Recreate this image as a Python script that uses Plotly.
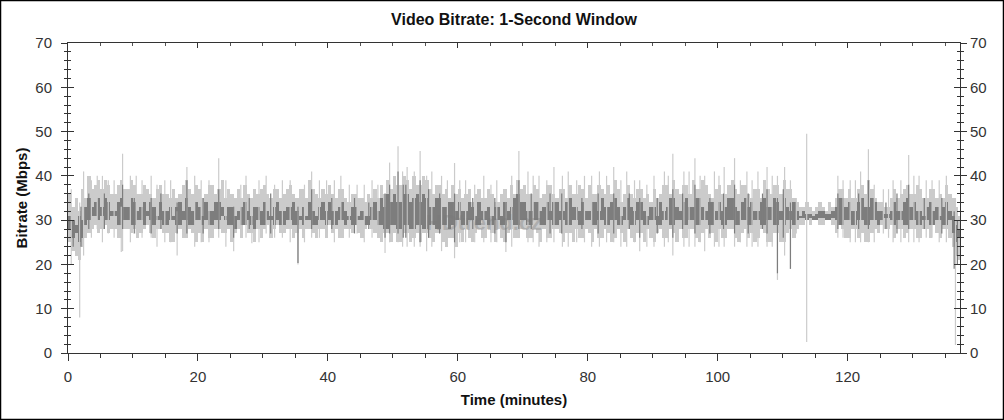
import plotly.graph_objects as go

# half-minute bins (0, 0.5, ... 137.5 min): envelope of each series inside each bin
light_hi = [36,33, 35,32, 37,35, 40,37, 38,39, 37,39, 38,36, 36,38, 39,37, 37,39,
            38,36, 36,38, 37,36, 35,37, 38,36, 36,35, 37,35, 36,38, 39,37, 36,38,
            37,35, 36,38, 38,36, 37,39, 35,37, 36,35, 37,35, 38,36, 35,37, 36,37,
            38,36, 35,37, 37,35, 36,37, 38,36, 35,37, 37,35, 39,37, 36,35, 37,36,
            38,36, 35,37, 37,35, 34,36, 36,35, 35,34, 36,35, 37,35, 38,36, 39,37,
            40,38, 38,40, 39,37, 40,38, 38,40, 39,37, 36,38, 38,36, 37,35, 38,36,
            37,35, 36,37, 34,36, 37,35, 35,37, 36,34, 34,36, 37,35, 38,36, 39,37,
            38,36, 36,38, 37,35, 36,38, 38,36, 35,37, 37,35, 38,36, 36,38, 37,35,
            38,36, 36,38, 37,36, 38,36, 39,37, 34,36, 38,36, 35,37, 37,35, 36,34,
            37,35, 36,38, 38,36, 39,37, 36,38, 38,36, 39,37, 37,39, 38,36, 35,37,
            38,36, 36,38, 39,37, 36,38, 38,36, 35,37, 37,35, 39,37, 36,38, 38,36,
            39,37, 37,35, 34,33, 33,34, 33,32, 33,34, 33,32, 34,33, 35,37, 37,35,
            37,35, 35,37, 38,36, 39,37, 35,34, 34,33, 33,35, 37,35, 36,37, 38,36,
            36,38, 37,35, 35,37, 37,35, 36,35, 38,36, 35,33, 31,29]
light_lo = [25,23, 22,21, 24,26, 27,28, 29,27, 28,29, 27,28, 28,26, 26,28, 28,27,
            28,26, 27,28, 29,27, 26,28, 28,27, 27,25, 25,27, 28,26, 26,28, 27,25,
            27,25, 28,26, 26,28, 28,27, 27,28, 25,27, 28,26, 29,27, 27,25, 28,26,
            28,29, 26,28, 29,27, 27,28, 28,26, 27,28, 26,28, 28,27, 26,28, 28,26,
            29,27, 28,26, 26,28, 28,27, 29,27, 26,28, 29,28, 27,26, 25,27, 27,25,
            27,25, 25,27, 27,25, 26,27, 25,27, 27,26, 25,27, 27,25, 24,26, 26,24,
            27,25, 28,26, 25,27, 28,26, 26,28, 27,25, 28,26, 25,27, 28,26, 26,28,
            28,26, 26,28, 27,25, 28,26, 26,28, 28,27, 25,27, 27,25, 28,26, 26,28,
            27,25, 28,26, 26,28, 27,25, 26,28, 27,25, 28,26, 25,27, 27,25, 28,26,
            25,27, 28,26, 26,28, 27,25, 28,26, 26,28, 28,26, 25,27, 28,26, 27,25,
            28,26, 26,28, 28,26, 25,27, 28,26, 27,25, 26,28, 27,25, 25,27, 27,25,
            25,27, 28,26, 28,29, 29,30, 29,30, 30,29, 29,30, 30,29, 27,29, 28,26,
            26,28, 28,26, 27,25, 25,27, 28,27, 29,28, 28,29, 26,28, 28,26, 27,28,
            28,26, 26,28, 28,26, 29,27, 26,28, 28,26, 24,22, 21,23]
dark_hi = [31,30, 29,31, 30,33, 35,33, 34,35, 33,35, 34,32, 32,34, 35,33, 33,35,
           34,32, 33,34, 32,34, 33,31, 34,32, 32,33, 31,33, 34,32, 35,33, 32,34,
           33,31, 34,32, 32,34, 34,33, 31,33, 33,31, 32,33, 34,32, 31,33, 33,32,
           34,32, 31,33, 34,32, 32,33, 33,34, 32,31, 33,31, 34,32, 31,33, 34,32,
           34,32, 32,33, 34,32, 31,33, 33,31, 32,31, 31,33, 34,32, 35,33, 36,34,
           36,34, 34,36, 36,34, 35,36, 34,36, 35,33, 33,35, 35,33, 33,34, 34,32,
           34,32, 32,34, 33,31, 34,32, 32,33, 31,33, 33,31, 34,32, 33,35, 36,34,
           34,32, 32,34, 34,32, 33,34, 32,34, 34,32, 32,34, 35,33, 33,32, 34,32,
           32,34, 34,32, 35,33, 33,34, 35,33, 31,33, 35,33, 32,34, 34,32, 31,33,
           33,31, 34,32, 33,35, 35,33, 32,34, 35,33, 33,35, 35,33, 32,34, 34,32,
           34,32, 33,35, 35,33, 32,34, 35,33, 34,32, 32,34, 35,33, 33,35, 34,32,
           35,33, 32,34, 32,31, 32,31.5, 31.5,31, 31.5,32, 32,31.5, 31.5,32, 33,35, 35,33,
           34,32, 32,34, 35,33, 33,35, 34,32, 32,31.5, 31.5,32, 34,32, 32,34, 35,33,
           34,32, 32,31, 33,34, 32,33, 31,33, 34,32, 31,29, 28,27]
dark_lo = [28,26, 27,25, 26,29, 30,31, 31,30, 31,30, 30,31, 31,29, 29,30, 30,29,
           29,30, 30,29, 31,30, 29,30, 30,29, 29,30, 30,29, 29,30, 30,29, 29,30,
           30,29, 30,29, 29,30, 30,31, 30,29, 29,28, 30,29, 29,30, 29,28, 30,29,
           29,30, 30,29, 30,29, 29,30, 30,29, 29,30, 29,30, 30,29, 29,30, 30,29,
           30,29, 29,30, 30,29, 30,29, 29,30, 30,29, 29,30, 30,29, 29,28, 28,29,
           29,28, 28,29, 29,28, 28,29, 29,28, 28,29, 29,28, 28,29, 29,28, 29,30,
           30,29, 29,30, 30,29, 29,30, 30,29, 29,30, 30,29, 29,30, 30,29, 29,30,
           30,29, 29,30, 30,29, 29,30, 30,29, 29,30, 30,29, 29,30, 30,29, 29,30,
           30,29, 29,30, 30,29, 29,30, 30,29, 29,30, 30,29, 29,30, 30,29, 29,30,
           30,29, 29,30, 30,29, 29,30, 30,29, 29,30, 30,29, 29,30, 30,29, 29,30,
           30,29, 29,30, 30,29, 29,30, 30,29, 29,30, 30,29, 29,30, 30,29, 29,30,
           29,30, 30,29, 30,30.5, 30.5,30, 30.5,30, 30,30.5, 30.5,30, 30,30.5, 30,29, 29,30,
           30,29, 29,30, 30,29, 29,30, 30,29, 30,30.5, 30.5,30, 29,30, 30,29, 29,30,
           30,29, 29,30, 30,29, 29,30, 30,29, 29,30, 27,25, 26,25]
bin_start = [i * 0.5 for i in range(len(light_hi))]

# individual 1-second excursions (minute, low, high)
light_spike_t = [0.5, 1.8, 2.4, 4.5, 6.2, 8.2, 8.4, 10.5, 12.8, 14.9,
                 16.8, 18.3, 20.5, 23.2, 25.5, 27.4, 28.3, 30.5, 33.0, 35.4,
                 37.5, 39.8, 42.0, 44.5, 46.8, 48.8, 49.5, 50.8, 52.2, 54.2,
                 56.0, 57.5, 59.5, 61.2, 64.0, 66.0, 67.4, 69.4, 70.8, 72.5,
                 74.8, 77.0, 79.5, 81.8, 84.0, 86.0, 88.0, 90.2, 91.8, 93.1,
                 94.8, 96.5, 98.0, 99.5, 101.0, 102.6, 104.5, 106.2, 107.6, 109.2,
                 110.3, 111.2, 113.7, 118.5, 120.4, 122.0, 123.2, 125.5, 127.0, 129.4,
                 131.0, 133.0, 135.2, 136.6, 3.6, 5.3, 7.1, 9.6, 11.4, 13.7,
                 15.8, 19.5, 21.7, 24.3, 26.6, 29.4, 31.8, 34.2, 36.4, 38.7,
                 41.0, 43.3, 45.6, 47.7, 51.5, 53.3, 55.2, 58.4, 60.3, 62.6,
                 65.1, 68.3, 71.6, 73.7, 76.1, 78.3, 80.6, 82.9, 85.1, 87.2,
                 89.1, 92.4, 95.6, 97.3, 100.2, 103.5, 105.3, 108.4, 112.1, 119.3,
                 121.2, 124.1, 126.3, 128.2, 130.2, 132.1, 134.1]
light_spike_lo = [20, 8, 22, 28, 27, 22.8, 23, 27, 26, 25,
                  22, 26, 25, 26, 23, 26, 24.8, 27, 26, 20,
                  26, 27, 26, 27, 26, 22.6, 25, 25, 24, 24,
                  24, 23, 21.4, 25, 25, 25, 22.8, 26, 25, 24,
                  25, 24, 25, 24, 25, 24, 23, 24, 24, 22,
                  24, 24, 23, 24, 24, 24, 24, 24, 24, 16.5,
                  22, 19, 2.5, 26, 25, 25, 25, 27, 25, 25,
                  25, 26, 25, 1.8, 26, 25, 26, 25, 26, 24,
                  25, 24, 25, 24, 26, 25, 26, 25, 25, 26,
                  25, 26, 25, 26, 24, 24, 23, 24, 25, 25,
                  25, 24, 25, 25, 24, 25, 24, 25, 24, 25,
                  24, 25, 24, 25, 24, 25, 24, 24, 27, 26,
                  25, 25, 26, 25, 25, 26, 25]
light_spike_hi = [37, 34, 41, 40, 39, 33, 45, 40, 40, 39,
                  32, 42, 39, 44, 33, 40, 33, 40, 39, 32,
                  41, 39, 40, 38, 39, 33, 43, 46.7, 42, 45.6,
                  41, 40, 42.9, 39, 40, 39, 34, 45.6, 41, 40,
                  42, 41, 40, 41, 42, 41, 39, 40, 41, 45,
                  41, 44, 40, 41, 42, 44, 41, 41, 42, 40,
                  42, 39, 49.5, 40, 39, 41, 46, 37, 39, 44.7,
                  40, 39, 40, 35, 39, 40, 39, 40, 39, 38,
                  39, 40, 39, 39, 38, 39, 38, 39, 38, 39,
                  39, 38, 38, 38, 41, 41, 40, 39, 39, 38,
                  38, 40, 40, 39, 40, 39, 40, 40, 39, 39,
                  38, 40, 41, 40, 40, 39, 39, 40, 35, 39,
                  39, 38, 37, 39, 40, 39, 39]

dark_spike_t = [0.8, 2.0, 3.2, 8.4, 12.8, 16.8, 18.3, 23.2, 25.5, 35.4,
                37.5, 48.8, 49.5, 50.8, 52.0, 54.2, 55.5, 59.5, 67.4, 69.4,
                76.0, 84.0, 88.0, 93.1, 96.5, 102.6, 107.6, 109.2, 111.2, 118.5,
                123.2, 129.4, 136.4, 136.9, 5.6, 10.2, 14.3, 20.8, 27.9, 31.2,
                40.6, 44.1, 46.3, 51.6, 57.2, 62.3, 65.7, 71.3, 74.2, 79.1,
                81.6, 86.4, 90.7, 94.6, 98.8, 100.9, 104.7, 106.9, 110.1, 121.7,
                125.9, 127.6, 131.8, 134.5]
dark_spike_lo = [24, 24, 28, 28, 27, 27, 27, 28, 26, 20.3,
                 28, 26, 27, 27, 26, 25, 26, 25, 25, 28,
                 27, 27, 26, 26, 27, 27, 27, 18, 19, 28,
                 28, 28, 19, 20, 28, 27, 28, 27, 28, 27,
                 28, 27, 28, 26, 27, 28, 27, 28, 27, 28,
                 27, 28, 27, 28, 27, 28, 27, 28, 26, 28,
                 28, 27, 28, 27]
dark_spike_hi = [30, 33, 36, 38, 35, 34, 39, 37, 33, 33,
                 37, 36, 38, 41, 38, 39, 37, 36, 34, 39,
                 36, 36, 35, 37, 38, 38, 37, 35, 34, 36,
                 39, 38, 32, 30, 36, 35, 36, 35, 35, 36,
                 35, 35, 34, 38, 36, 35, 35, 36, 36, 35,
                 36, 36, 35, 36, 35, 36, 36, 36, 37, 36,
                 34, 36, 35, 35]

x_ticks = [0, 20, 40, 60, 80, 100, 120]
y_ticks = [0, 10, 20, 30, 40, 50, 60, 70]

LIGHT = "#cbcbcb"
DARK = "#7d7d7d"


def segments(ts, lo, hi):
    xs, ys = [], []
    for t, a, b in zip(ts, lo, hi):
        xs += [t, t, None]
        ys += [a, b, None]
    return xs, ys


fig = go.Figure()


def band(lo, hi, color):
    fig.add_trace(go.Bar(x=bin_start, y=[h - l for h, l in zip(hi, lo)], base=lo,
                         width=0.5, offset=0, marker=dict(color=color, line=dict(width=0)),
                         hoverinfo="skip", showlegend=False))


band(light_lo, light_hi, LIGHT)
sx, sy = segments(light_spike_t, light_spike_lo, light_spike_hi)
fig.add_trace(go.Scatter(x=sx, y=sy, mode="lines", line=dict(color=LIGHT, width=1.2),
                         hoverinfo="skip", showlegend=False))
band(dark_lo, dark_hi, DARK)
sx, sy = segments(dark_spike_t, dark_spike_lo, dark_spike_hi)
fig.add_trace(go.Scatter(x=sx, y=sy, mode="lines", line=dict(color=DARK, width=1.2),
                         hoverinfo="skip", showlegend=False))

# dummy traces to anchor the overlay axes
fig.add_trace(go.Scatter(x=[None], y=[None], xaxis="x2", yaxis="y2", showlegend=False))
fig.add_trace(go.Scatter(x=[None], y=[None], xaxis="x", yaxis="y3", showlegend=False))
fig.add_trace(go.Scatter(x=[None], y=[None], xaxis="x", yaxis="y4", showlegend=False))

FONT = "Liberation Sans, Arial, sans-serif"
TICKFONT = dict(family=FONT, size=15, color="#333333")
XR = [0, 137.3]
YR = [0, 70]

fig.update_layout(
    width=1004, height=420,
    margin=dict(l=68, r=44, t=43, b=67),
    paper_bgcolor="white", plot_bgcolor="white",
    barmode="overlay", bargap=0,
    font=dict(family=FONT, color="#111111"),
    title=dict(text="<b>Video Bitrate: 1-Second Window</b>", x=0.5, xref="paper",
               y=1 - 19 / 420, yref="container", yanchor="middle",
               font=dict(family=FONT, size=16, color="#111111")),
    xaxis=dict(range=XR, tickvals=x_ticks, ticks="outside", ticklen=7, tickcolor="#333",
               showline=True, linecolor="#333", linewidth=1, showgrid=False, zeroline=False,
               automargin=False, ticklabelstandoff=3,
               minor=dict(dtick=5, tick0=0, ticks="outside", ticklen=4, tickcolor="#333"),
               tickfont=TICKFONT,
               title=dict(text="<b>Time (minutes)</b>", font=dict(family=FONT, size=15, color="#111"),
                          standoff=10)),
    xaxis2=dict(range=XR, overlaying="x", side="top", tickvals=x_ticks, ticks="inside",
                ticklen=5, tickcolor="#333", showticklabels=False, showline=True,
                linecolor="#333", showgrid=False, zeroline=False, anchor="y", automargin=False,
                minor=dict(dtick=5, tick0=0, ticks="inside", ticklen=3, tickcolor="#555")),
    yaxis=dict(range=YR, tickvals=y_ticks, ticks="outside", ticklen=6, tickcolor="#333",
               showline=True, linecolor="#333", linewidth=1, showgrid=False, zeroline=False,
               automargin=False, ticklabelstandoff=6,
               minor=dict(dtick=2, tick0=0, ticks="outside", ticklen=3, tickcolor="#333"),
               tickfont=TICKFONT,
               title=dict(text="<b>Bitrate (Mbps)</b>", font=dict(family=FONT, size=15, color="#111"),
                          standoff=4)),
    yaxis2=dict(range=YR, overlaying="y", side="right", tickvals=y_ticks, ticks="outside",
                ticklen=6, tickcolor="#333", showline=True, linecolor="#333",
                showgrid=False, zeroline=False, anchor="x2", tickfont=TICKFONT, automargin=False,
                minor=dict(dtick=2, tick0=0, ticks="outside", ticklen=3, tickcolor="#333")),
    yaxis3=dict(range=YR, overlaying="y", side="left", tickvals=y_ticks, ticks="inside",
                ticklen=6, tickcolor="#333", showticklabels=False, showline=False,
                showgrid=False, zeroline=False, automargin=False,
                minor=dict(dtick=2, tick0=0, ticks="inside", ticklen=3, tickcolor="#333")),
    yaxis4=dict(range=YR, overlaying="y", side="right", tickvals=y_ticks, ticks="inside",
                ticklen=6, tickcolor="#333", showticklabels=False, showline=False,
                showgrid=False, zeroline=False, automargin=False,
                minor=dict(dtick=2, tick0=0, ticks="inside", ticklen=3, tickcolor="#333")),
)

# faint watermark
fig.add_annotation(text="<b>HDtrend.cz</b>", x=64, y=29.5, xref="x", yref="y",
                   showarrow=False, font=dict(family=FONT, size=22, color="rgba(120,120,120,0.35)"))

# outer border
W, H = 892.0, 310.0
fig.add_shape(type="rect", xref="paper", yref="paper",
              x0=(-68 + 0.5) / W, x1=(W + 44 - 0.5) / W,
              y0=(-67 + 0.5) / H, y1=(H + 43 - 0.5) / H,
              line=dict(color="black", width=1.5), fillcolor="rgba(0,0,0,0)", layer="above")

fig.write_html("out.html", config={"displayModeBar": False},
               post_script="document.body.style.margin='0px';")
